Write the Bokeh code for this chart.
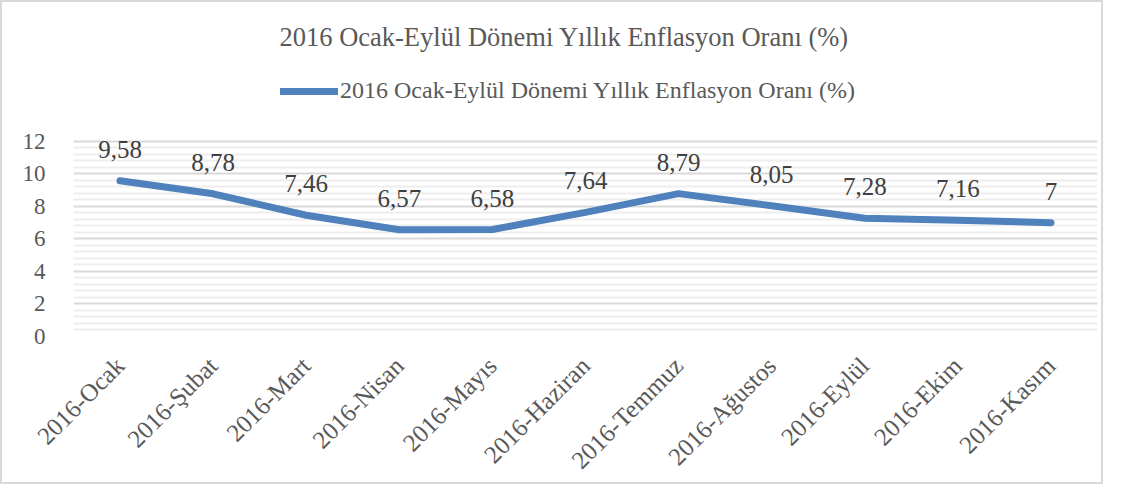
from math import pi
from bokeh.plotting import figure
from bokeh.models import (ColumnDataSource, LabelSet, Legend, LegendItem,
                          Range1d, FactorRange, FixedTicker)
from bokeh.embed import file_html
from bokeh.resources import INLINE

months = ["2016-Ocak", "2016-Şubat", "2016-Mart", "2016-Nisan", "2016-Mayıs",
          "2016-Haziran", "2016-Temmuz", "2016-Ağustos", "2016-Eylül",
          "2016-Ekim", "2016-Kasım"]
values = [9.58, 8.78, 7.46, 6.57, 6.58, 7.64, 8.79, 8.05, 7.28, 7.16, 7]
series_name = "2016 Ocak-Eylül Dönemi Yıllık Enflasyon Oranı (%)"
y_ticks = [0, 2, 4, 6, 8, 10, 12]
y_minor = [0.4, 0.8, 1.2, 1.6, 2.4, 2.8, 3.2, 3.6, 4.4, 4.8, 5.2, 5.6,
           6.4, 6.8, 7.2, 7.6, 8.4, 8.8, 9.2, 9.6, 10.4, 10.8, 11.2, 11.6]

labels = [("%g" % v).replace(".", ",") for v in values]
src = ColumnDataSource(dict(x=months, y=values, lab=labels))

FONT = "Liberation Serif"
GREY = "#595959"

# frame extends above 12 so the legend can sit inside it (grid stops at 12)
p = figure(width=1103, height=484, output_backend="svg", toolbar_location=None,
           x_range=FactorRange(*months, range_padding=0),
           y_range=Range1d(0, 16.86),
           min_border_left=71, min_border_right=8, min_border_bottom=150,
           min_border_top=60, title=series_name)
p.styles = {"border": "2px solid #d9d9d9"}
p.outline_line_color = None

p.title.text_font = FONT
p.title.text_font_size = "26.5px"
p.title.text_font_style = "normal"
p.title.text_color = GREY
p.title.align = "left"
p.title.offset = 206
p.title.standoff = 21

r = p.line("x", "y", source=src, line_width=7, line_color="#4f81bd",
           line_cap="round", line_join="round")

lbl = LabelSet(x="x", y="y", text="lab", source=src, y_offset=23,
               text_align="center", text_baseline="alphabetic",
               text_font=FONT, text_font_size="25px", text_color="#404040")
p.add_layout(lbl)

legend = Legend(items=[LegendItem(label=series_name, renderers=[r])],
                orientation="horizontal", location=(207, 232),
                label_text_font=FONT, label_text_font_size="24px",
                label_text_color=GREY, glyph_width=58, glyph_height=20,
                border_line_color=None, background_fill_alpha=0,
                label_standoff=2, padding=0, margin=0)
p.add_layout(legend)

p.yaxis.axis_line_color = None
p.yaxis.major_tick_line_color = None
p.yaxis.minor_tick_line_color = None
p.yaxis.major_label_text_font = FONT
p.yaxis.major_label_text_font_size = "23px"
p.yaxis.major_label_text_color = GREY
p.yaxis.major_label_standoff = 22
p.yaxis.ticker = FixedTicker(ticks=y_ticks, minor_ticks=y_minor)

p.xaxis.axis_line_color = None
p.xaxis.major_tick_line_color = None
p.xaxis.minor_tick_line_color = None
p.xaxis.major_label_orientation = pi / 4
p.xaxis.major_label_text_font = FONT
p.xaxis.major_label_text_font_size = "25px"
p.xaxis.major_label_text_color = GREY
p.xaxis.major_label_standoff = 19

p.xgrid.grid_line_color = None
p.ygrid.grid_line_color = "#d9d9d9"
p.ygrid.grid_line_width = 2
p.ygrid.minor_grid_line_color = "#eeeeee"
p.ygrid.minor_grid_line_width = 2

open("out.html", "w").write(file_html(p, INLINE))
